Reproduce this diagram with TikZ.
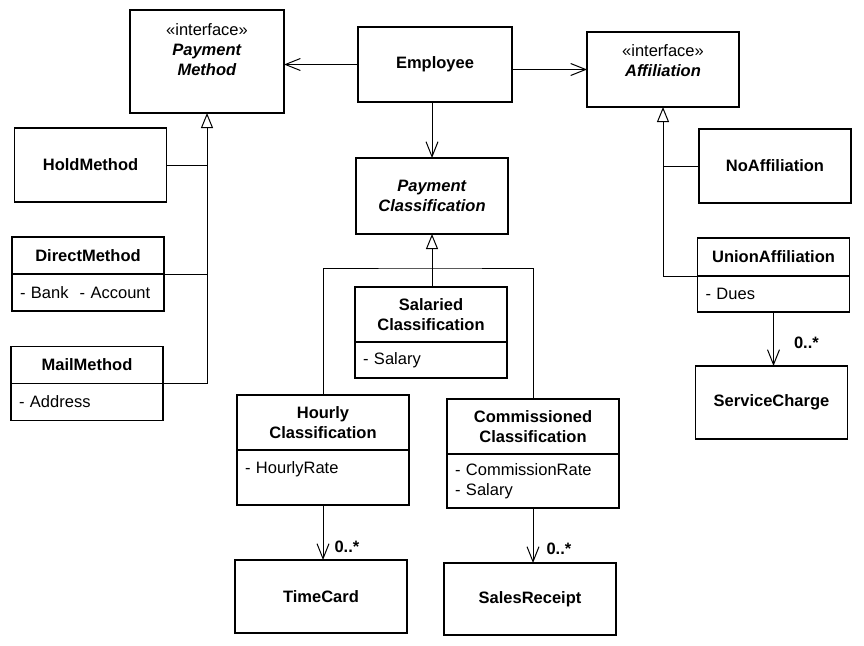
\documentclass[tikz,border=0pt]{standalone}
\usepackage{fontspec}
\setmainfont{Liberation Sans}
\usetikzlibrary{positioning,arrows.meta}

\tikzset{
  classbox/.style={draw, line width=1.2pt, outer sep=0pt, minimum width=152pt, minimum height=74pt,
    font=\fontsize{16.5}{20}\selectfont\bfseries, align=center},
  titlebox/.style={classbox, minimum height=37pt},
  attrbox/.style={draw, line width=1.2pt, outer sep=0pt, minimum width=152pt, minimum height=37pt,
    text width=136pt, inner xsep=8pt, align=left, font=\fontsize{16.5}{20}\selectfont},
  wide/.style={minimum width=172pt, text width=156pt},
  link/.style={line width=1pt},
  navarrow/.style={link, -{Straight Barb[length=15pt,width=12pt]}},
  isarrow/.style={link, -{Triangle[open,length=15pt,width=12pt]}},
  mult/.style={font=\fontsize{16.5}{20}\selectfont\bfseries, inner sep=0pt, anchor=south west}
}

\begin{document}
\begin{tikzpicture}[x=1pt,y=-1pt]
	\useasboundingbox (0,0) rectangle (864,645);

	\node[classbox, minimum width=154pt, minimum height=103pt, text depth=24pt] (paymethod) at (207,61.5)
	    {{\mdseries «interface»}\\\textit{Payment}\\\textit{Method}};
	\node[classbox, minimum width=154pt, minimum height=75pt] (employee) at (435,64.5) {Employee};
	\node[classbox, minimum height=75pt, text depth=18pt] (affil) at (663,69.5)
	    {{\mdseries «interface»}\\\textit{Affiliation}};
	\node[classbox, minimum height=76pt] (payclass) at (432,196) {\textit{Payment}\\\textit{Classification}};

	\node[classbox] (hold) at (90.5,165) {HoldMethod};
	\node[titlebox] (directtitle) at (88,255.5) {DirectMethod};
	\node[attrbox, below=0pt of directtitle] (directattr) {- Bank~ - Account};
	\node[titlebox] (mailtitle) at (87,365) {MailMethod};
	\node[attrbox, below=0pt of mailtitle] (mailattr) {- Address};

	\node[classbox] (noaffil) at (775,166) {NoAffiliation};
	\node[titlebox, minimum height=38pt] (uniontitle) at (773.5,257) {UnionAffiliation};
	\node[attrbox, minimum height=36pt, below=0pt of uniontitle] (unionattr) {- Dues};
	\node[classbox, minimum height=73pt] (charge) at (771.5,402.5) {ServiceCharge};

	\node[titlebox, minimum height=55pt] (salariedtitle) at (431,314.5) {Salaried\\Classification};
	\node[attrbox, minimum height=36pt, below=0pt of salariedtitle] (salariedattr) {- Salary};
	\node[titlebox, wide, minimum height=55pt] (hourlytitle) at (323,422.5) {Hourly\\Classification};
	\node[attrbox, wide, minimum height=55pt, below=0pt of hourlytitle] (hourlyattr) {- HourlyRate\\~};
	\node[titlebox, wide, minimum height=55pt] (commtitle) at (533,426.5) {Commissioned\\Classification};
	\node[attrbox, wide, minimum height=54pt, below=0pt of commtitle] (commattr) {- CommissionRate\\- Salary};
	\node[classbox, wide, minimum height=73pt] (timecard) at (321,596.5) {TimeCard};
	\node[classbox, wide, minimum height=72pt] (receipt) at (530,599) {SalesReceipt};

	\draw[navarrow] (employee.west) -- (employee.west -| paymethod.east);
	\draw[navarrow] (affil.west -| employee.east) -- (affil.west);
	\draw[navarrow] (payclass.north |- employee.south) -- (payclass.north);

	\draw[isarrow] (mailtitle.south east) -| (paymethod.south);
	\draw[link] (hold.east) -- (hold.east -| paymethod.south);
	\draw[link] (directtitle.south east) -- (directtitle.south east -| paymethod.south);

	\draw[isarrow] (uniontitle.south west) -| (affil.south);
	\draw[link] (noaffil.west) -- (noaffil.west -| affil.south);

	\draw[isarrow] (payclass.south |- salariedtitle.north) -- (payclass.south);
	\coordinate (branch) at (432,268);
	\draw[link] (hourlytitle.north) |- (branch) -| (commtitle.north);

	\draw[navarrow] (hourlyattr.south) -- (hourlyattr.south |- timecard.north)
	    node[mult, xshift=11pt, yshift=7pt] (timemult) {0..*};
	\draw[navarrow] (commattr.south) -- (commattr.south |- receipt.north)
	    node[mult, xshift=13pt, yshift=8pt] (receiptmult) {0..*};
	\draw[navarrow] (unionattr.south) -- (unionattr.south |- charge.north)
	    node[mult, xshift=20pt, yshift=17pt] (chargemult) {0..*};
\end{tikzpicture}
\end{document}
